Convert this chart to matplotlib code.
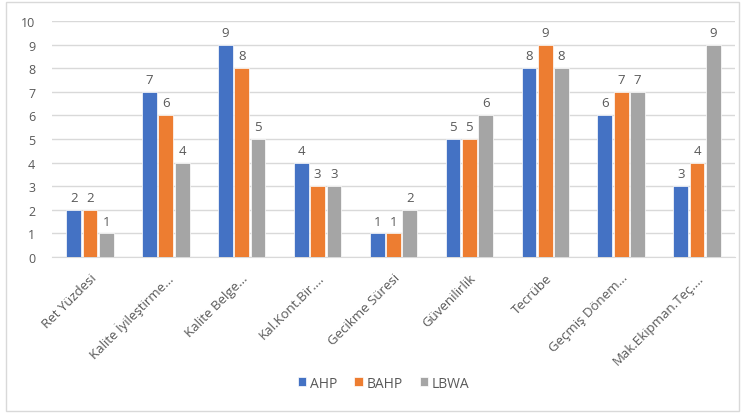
import matplotlib
matplotlib.use("Agg")
import matplotlib.pyplot as plt
from matplotlib.patches import Rectangle
import numpy as np

categories = ["Ret Yüzdesi", "Kalite İyileştirme...", "Kalite Belge...", "Kal.Kont.Bir....",
              "Gecikme Süresi", "Güvenilirlik", "Tecrübe", "Geçmiş Dönem...", "Mak.Ekipman.Teç...."]
ahp = [2, 7, 9, 4, 1, 5, 8, 6, 3]
bahp = [2, 6, 8, 3, 1, 5, 9, 7, 4]
lbwa = [1, 4, 5, 3, 2, 6, 8, 7, 9]
series_names = ["AHP", "BAHP", "LBWA"]
colors = ["#4472C4", "#ED7D31", "#A5A5A5"]

plt.rcParams['font.family'] = ['Open Sans', 'DejaVu Sans']
text_color = "#595959"

fig = plt.figure(figsize=(7.45, 4.14), dpi=100)
fig.patches.append(Rectangle((0.008, 0.006), 0.984, 0.986, transform=fig.transFigure,
                             fill=False, edgecolor="#D9D9D9", linewidth=1.0))
ax = fig.add_axes([0.0698, 0.3768, 0.9168, 0.5701])

x = np.arange(len(categories))
step = 0.215
width = 0.195
for i, (vals, name, c) in enumerate(zip([ahp, bahp, lbwa], series_names, colors)):
    pos = x + (i - 1) * step
    bars = ax.bar(pos, vals, width, color=c, label=name, edgecolor="white", linewidth=0.5, zorder=3)
    for b, v in zip(bars, vals):
        ax.text(b.get_x() + b.get_width() / 2, v + 0.25, str(v), ha="center", va="bottom",
                fontsize=9.5, color=text_color)

ax.set_xlim(-0.5, len(categories) - 0.5)
ax.set_ylim(0, 10)
ax.set_yticks(range(0, 11))
ax.yaxis.grid(True, color="#D9D9D9", linewidth=1.0, zorder=0)
ax.set_axisbelow(True)
for s in ["top", "right", "left"]:
    ax.spines[s].set_visible(False)
ax.spines["bottom"].set_color("#D9D9D9")
ax.tick_params(axis="both", length=0, colors=text_color, labelsize=9)
ax.tick_params(axis="y", pad=12)
ax.tick_params(axis="x", pad=10)
ax.set_xticks(x)
ax.set_xticklabels(categories, rotation=45, ha="right", rotation_mode="anchor", fontsize=9.5)

fig.legend(loc="center", bbox_to_anchor=(0.515, 0.072), ncol=3, frameon=False, fontsize=10,
           handlelength=0.6, handleheight=0.6, handletextpad=0.3, columnspacing=1.2,
           labelcolor=text_color)

fig.savefig("out.png", dpi=100)
